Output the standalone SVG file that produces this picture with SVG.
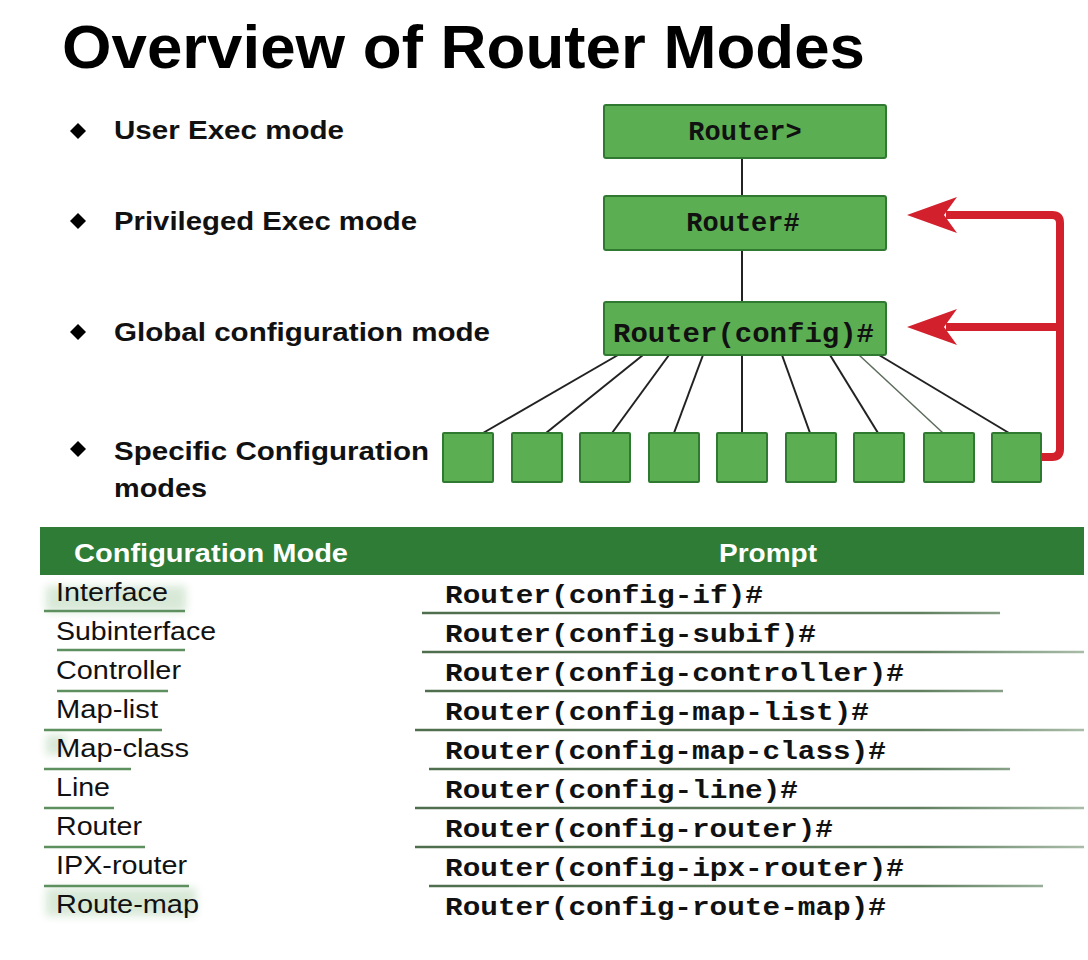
<svg xmlns="http://www.w3.org/2000/svg" width="1088" height="960" viewBox="0 0 1088 960">
<style>
.title{font-family:"Liberation Sans",Arial,sans-serif;font-weight:bold;font-size:62px;fill:#000}
.bul{font-family:"Liberation Sans",Arial,sans-serif;font-weight:bold;font-size:26px;fill:#111}
.box{fill:#5cae52;stroke:#2f7a30;stroke-width:2}
.mono{font-family:"Liberation Mono","Courier New",monospace;font-weight:bold;font-size:27px;fill:#111}
.hdr{font-family:"Liberation Sans",Arial,sans-serif;font-weight:bold;font-size:25px;fill:#fff}
.lbl{font-family:"Liberation Sans",Arial,sans-serif;font-size:25px;fill:#111}
.pr{font-family:"Liberation Mono","Courier New",monospace;font-weight:bold;font-size:26px;fill:#111}
.ln{stroke:#222;stroke-width:2;fill:none}
.red{stroke:#d2202c;stroke-width:8;fill:none;stroke-linejoin:round}
.sepR{stroke:url(#fadeR);stroke-width:2.5}
.sepL{stroke:#5e8f5e;stroke-width:2.5}
</style>
<defs>
<linearGradient id="fadeR" gradientUnits="userSpaceOnUse" x1="415" y1="0" x2="1084" y2="0">
<stop offset="0" stop-color="#4e6e4e"/>
<stop offset="0.75" stop-color="#5f7f5f"/>
<stop offset="1" stop-color="#a9bca9"/>
</linearGradient>
<path id="head" d="M0,0 L50,-18 L37,0 L50,18 Z" fill="#d2202c"/>
<path id="dia" d="M0,-8 L8,0 L0,8 L-8,0 Z" fill="#000"/>
<filter id="blur"><feGaussianBlur stdDeviation="4"/></filter>
</defs>
<rect width="1088" height="960" fill="#fff"/>
<text class="title" x="62" y="68" textLength="803" lengthAdjust="spacingAndGlyphs">Overview of Router Modes</text>
<g id="bullets">
<use href="#dia" x="78" y="131"/>
<text class="bul" x="114" y="139" textLength="230" lengthAdjust="spacingAndGlyphs">User Exec mode</text>
<use href="#dia" x="78" y="221"/>
<text class="bul" x="114" y="230" textLength="303" lengthAdjust="spacingAndGlyphs">Privileged Exec mode</text>
<use href="#dia" x="78" y="332"/>
<text class="bul" x="114" y="341" textLength="376" lengthAdjust="spacingAndGlyphs">Global configuration mode</text>
<use href="#dia" x="78" y="449"/>
<text class="bul" x="114" y="460" textLength="315" lengthAdjust="spacingAndGlyphs">Specific Configuration</text>
<text class="bul" x="114" y="497" textLength="93" lengthAdjust="spacingAndGlyphs">modes</text>
</g>
<g id="connectors">
<line class="ln" x1="742" y1="158" x2="742" y2="196"/>
<line class="ln" x1="742" y1="250" x2="742" y2="302"/>
<line class="ln" x1="618" y1="355" x2="483" y2="433"/>
<line class="ln" x1="643" y1="355" x2="546" y2="433"/>
<line class="ln" x1="669" y1="355" x2="612" y2="433"/>
<line class="ln" x1="703" y1="355" x2="674" y2="433"/>
<line class="ln" x1="742" y1="355" x2="742" y2="433"/>
<line class="ln" x1="782" y1="355" x2="810" y2="433"/>
<line class="ln" x1="830" y1="355" x2="878" y2="433"/>
<line x1="859" y1="355" x2="943" y2="433" stroke="#5c6c5c" stroke-width="1.5"/>
<line class="ln" x1="879" y1="355" x2="1009" y2="433"/>
<path class="red" d="M1041,457 H1052 Q1060,457 1060,449 V223 Q1060,215 1052,215 H946"/>
<path class="red" d="M1060,327 H946"/>
<use href="#head" x="907" y="215"/>
<use href="#head" x="907" y="327"/>
</g>
<g id="user-exec">
<rect class="box" x="604" y="105" width="282" height="53" rx="2"/>
<text class="mono" x="745" y="140" text-anchor="middle">Router&gt;</text>
</g>
<g id="privileged-exec">
<rect class="box" x="604" y="196" width="282" height="54" rx="2"/>
<text class="mono" x="743" y="231" text-anchor="middle">Router#</text>
</g>
<g id="global-config">
<rect class="box" x="604" y="302" width="282" height="53" rx="2"/>
<text class="mono" x="613" y="342" textLength="261" lengthAdjust="spacingAndGlyphs">Router(config)#</text>
</g>
<g id="specific-modes">
<rect class="box" x="443" y="433" width="50" height="49" rx="1"/>
<rect class="box" x="512" y="433" width="50" height="49" rx="1"/>
<rect class="box" x="580" y="433" width="50" height="49" rx="1"/>
<rect class="box" x="649" y="433" width="50" height="49" rx="1"/>
<rect class="box" x="717" y="433" width="50" height="49" rx="1"/>
<rect class="box" x="786" y="433" width="50" height="49" rx="1"/>
<rect class="box" x="854" y="433" width="50" height="49" rx="1"/>
<rect class="box" x="924" y="433" width="50" height="49" rx="1"/>
<rect class="box" x="992" y="433" width="49" height="49" rx="1"/>
</g>
<g id="table">
<rect x="40" y="527" width="1044" height="48" fill="#2f7c36"/>
<text class="hdr" x="74" y="562" textLength="274" lengthAdjust="spacingAndGlyphs">Configuration Mode</text>
<text class="hdr" x="719" y="562" textLength="98" lengthAdjust="spacingAndGlyphs">Prompt</text>
<g opacity="0.35" filter="url(#blur)" fill="#8fbf8f">
<rect x="46" y="586" width="140" height="26"/>
<rect x="46" y="888" width="150" height="28"/>
<rect x="46" y="735" width="20" height="20"/>
</g>
<g id="separators">
<line class="sepR" x1="422" y1="613" x2="1000" y2="613"/>
<line class="sepR" x1="422" y1="652" x2="1084" y2="652"/>
<line class="sepR" x1="425" y1="691" x2="1003" y2="691"/>
<line class="sepR" x1="415" y1="730" x2="1084" y2="730"/>
<line class="sepR" x1="429" y1="769" x2="1010" y2="769"/>
<line class="sepR" x1="415" y1="808" x2="1084" y2="808"/>
<line class="sepR" x1="415" y1="847" x2="1084" y2="847"/>
<line class="sepR" x1="429" y1="886" x2="1043" y2="886"/>
<line class="sepL" x1="44" y1="611" x2="185" y2="611"/>
<line class="sepL" x1="57" y1="650" x2="185" y2="650"/>
<line class="sepL" x1="57" y1="691" x2="168" y2="691"/>
<line class="sepL" x1="44" y1="730" x2="162" y2="730"/>
<line class="sepL" x1="44" y1="769" x2="131" y2="769"/>
<line class="sepL" x1="44" y1="808" x2="114" y2="808"/>
<line class="sepL" x1="44" y1="847" x2="145" y2="847"/>
<line class="sepL" x1="44" y1="886" x2="189" y2="886"/>
</g>
<g id="labels">
<text class="lbl" x="56" y="601" textLength="112" lengthAdjust="spacingAndGlyphs">Interface</text>
<text class="lbl" x="56" y="640" textLength="160" lengthAdjust="spacingAndGlyphs">Subinterface</text>
<text class="lbl" x="56" y="679" textLength="125" lengthAdjust="spacingAndGlyphs">Controller</text>
<text class="lbl" x="56" y="718" textLength="102" lengthAdjust="spacingAndGlyphs">Map-list</text>
<text class="lbl" x="56" y="757" textLength="133" lengthAdjust="spacingAndGlyphs">Map-class</text>
<text class="lbl" x="56" y="796" textLength="54" lengthAdjust="spacingAndGlyphs">Line</text>
<text class="lbl" x="56" y="835" textLength="86" lengthAdjust="spacingAndGlyphs">Router</text>
<text class="lbl" x="56" y="874" textLength="131" lengthAdjust="spacingAndGlyphs">IPX-router</text>
<text class="lbl" x="56" y="913" textLength="143" lengthAdjust="spacingAndGlyphs">Route-map</text>
</g>
<g id="prompts">
<text class="pr" x="445" y="603" textLength="318" lengthAdjust="spacingAndGlyphs">Router(config-if)#</text>
<text class="pr" x="445" y="642" textLength="371" lengthAdjust="spacingAndGlyphs">Router(config-subif)#</text>
<text class="pr" x="445" y="681" textLength="459" lengthAdjust="spacingAndGlyphs">Router(config-controller)#</text>
<text class="pr" x="445" y="720" textLength="424" lengthAdjust="spacingAndGlyphs">Router(config-map-list)#</text>
<text class="pr" x="445" y="759" textLength="441" lengthAdjust="spacingAndGlyphs">Router(config-map-class)#</text>
<text class="pr" x="445" y="798" textLength="353" lengthAdjust="spacingAndGlyphs">Router(config-line)#</text>
<text class="pr" x="445" y="837" textLength="388" lengthAdjust="spacingAndGlyphs">Router(config-router)#</text>
<text class="pr" x="445" y="876" textLength="459" lengthAdjust="spacingAndGlyphs">Router(config-ipx-router)#</text>
<text class="pr" x="445" y="915" textLength="441" lengthAdjust="spacingAndGlyphs">Router(config-route-map)#</text>
</g>
</g>
</svg>
